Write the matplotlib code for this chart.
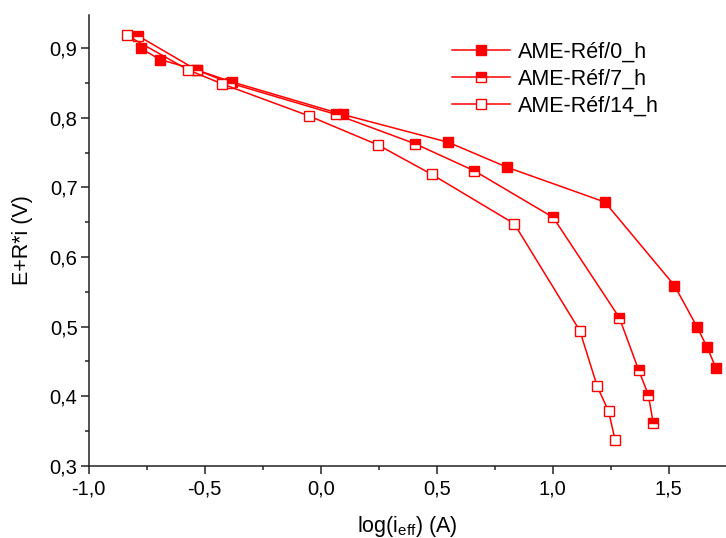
import matplotlib
matplotlib.use("Agg")
import matplotlib.pyplot as plt
from matplotlib.ticker import MultipleLocator, FuncFormatter

plt.rcParams['font.family'] = ['Liberation Sans', 'DejaVu Sans']
plt.rcParams['mathtext.fontset'] = 'custom'
plt.rcParams['mathtext.rm'] = 'Liberation Sans'

labels = ["AME-Réf/0_h", "AME-Réf/7_h", "AME-Réf/14_h"]

x_0h = [-0.775, -0.693, -0.535, -0.384, 0.094, 0.550, 0.804, 1.225, 1.525, 1.623, 1.666, 1.703]
y_0h = [0.900, 0.884, 0.869, 0.852, 0.805, 0.765, 0.729, 0.679, 0.559, 0.499, 0.470, 0.441]

x_7h = [-0.787, -0.535, -0.390, 0.066, 0.406, 0.662, 1.002, 1.287, 1.370, 1.412, 1.433]
y_7h = [0.918, 0.869, 0.850, 0.805, 0.763, 0.724, 0.657, 0.513, 0.438, 0.402, 0.362]

x_14h = [-0.837, -0.571, -0.425, -0.051, 0.248, 0.478, 0.834, 1.117, 1.192, 1.241, 1.269]
y_14h = [0.919, 0.869, 0.849, 0.803, 0.761, 0.719, 0.648, 0.494, 0.414, 0.378, 0.337]

W, H = 726, 538
fig = plt.figure(figsize=(W / 100, H / 100), dpi=100)
ax = fig.add_axes([88.7 / W, (H - 465.7) / H, (W - 88.7) / W, (465.7 - 15) / H])

red = '#ff0000'
common = dict(color=red, lw=1.1, marker='s', markersize=7.3, markeredgewidth=1.0,
              markeredgecolor=red)
ax.plot(x_0h, y_0h, markerfacecolor=red, label=labels[0], **common)
ax.plot(x_7h, y_7h, markerfacecolor=red, fillstyle='top', markerfacecoloralt='white',
        label=labels[1], **common)
ax.plot(x_14h, y_14h, markerfacecolor='white', label=labels[2], **common)

ax.set_xlim(-1.0, 1.747)
ax.set_ylim(0.3, 0.948)

for s in ['top', 'right']:
    ax.spines[s].set_visible(False)
for s in ['left', 'bottom']:
    ax.spines[s].set_linewidth(1.1)
    ax.spines[s].set_color('#222222')

ax.xaxis.set_major_locator(MultipleLocator(0.5))
ax.xaxis.set_minor_locator(MultipleLocator(0.25))
ax.yaxis.set_major_locator(MultipleLocator(0.1))
ax.yaxis.set_minor_locator(MultipleLocator(0.05))
ax.xaxis.set_major_formatter(FuncFormatter(lambda v, p: f"{v:.1f}".replace('.', ',')))
ax.yaxis.set_major_formatter(FuncFormatter(lambda v, p: f"{v:.1f}".replace('.', ',')))
ax.tick_params(which='major', direction='out', length=6, width=1.1, labelsize=14.5,
               color='#222222')
ax.tick_params(which='minor', direction='out', length=3, width=1.1, color='#222222')
ax.tick_params(axis='x', which='major', pad=4)
ax.tick_params(axis='y', which='major', pad=2)

ax.set_xlabel('log(i$_{\\mathregular{eff}}$) (A)', fontsize=15.5, labelpad=11)
ax.set_ylabel('E+R*i (V)', fontsize=15.5, labelpad=12)

leg = ax.legend(loc='upper left', bbox_to_anchor=(452 / W, 1 - 42 / H),
                bbox_transform=fig.transFigure, frameon=False, fontsize=15.5,
                borderpad=0, borderaxespad=0, handlelength=2.7, handletextpad=0.35,
                labelspacing=0.27)

fig.savefig('out.png', dpi=100)
